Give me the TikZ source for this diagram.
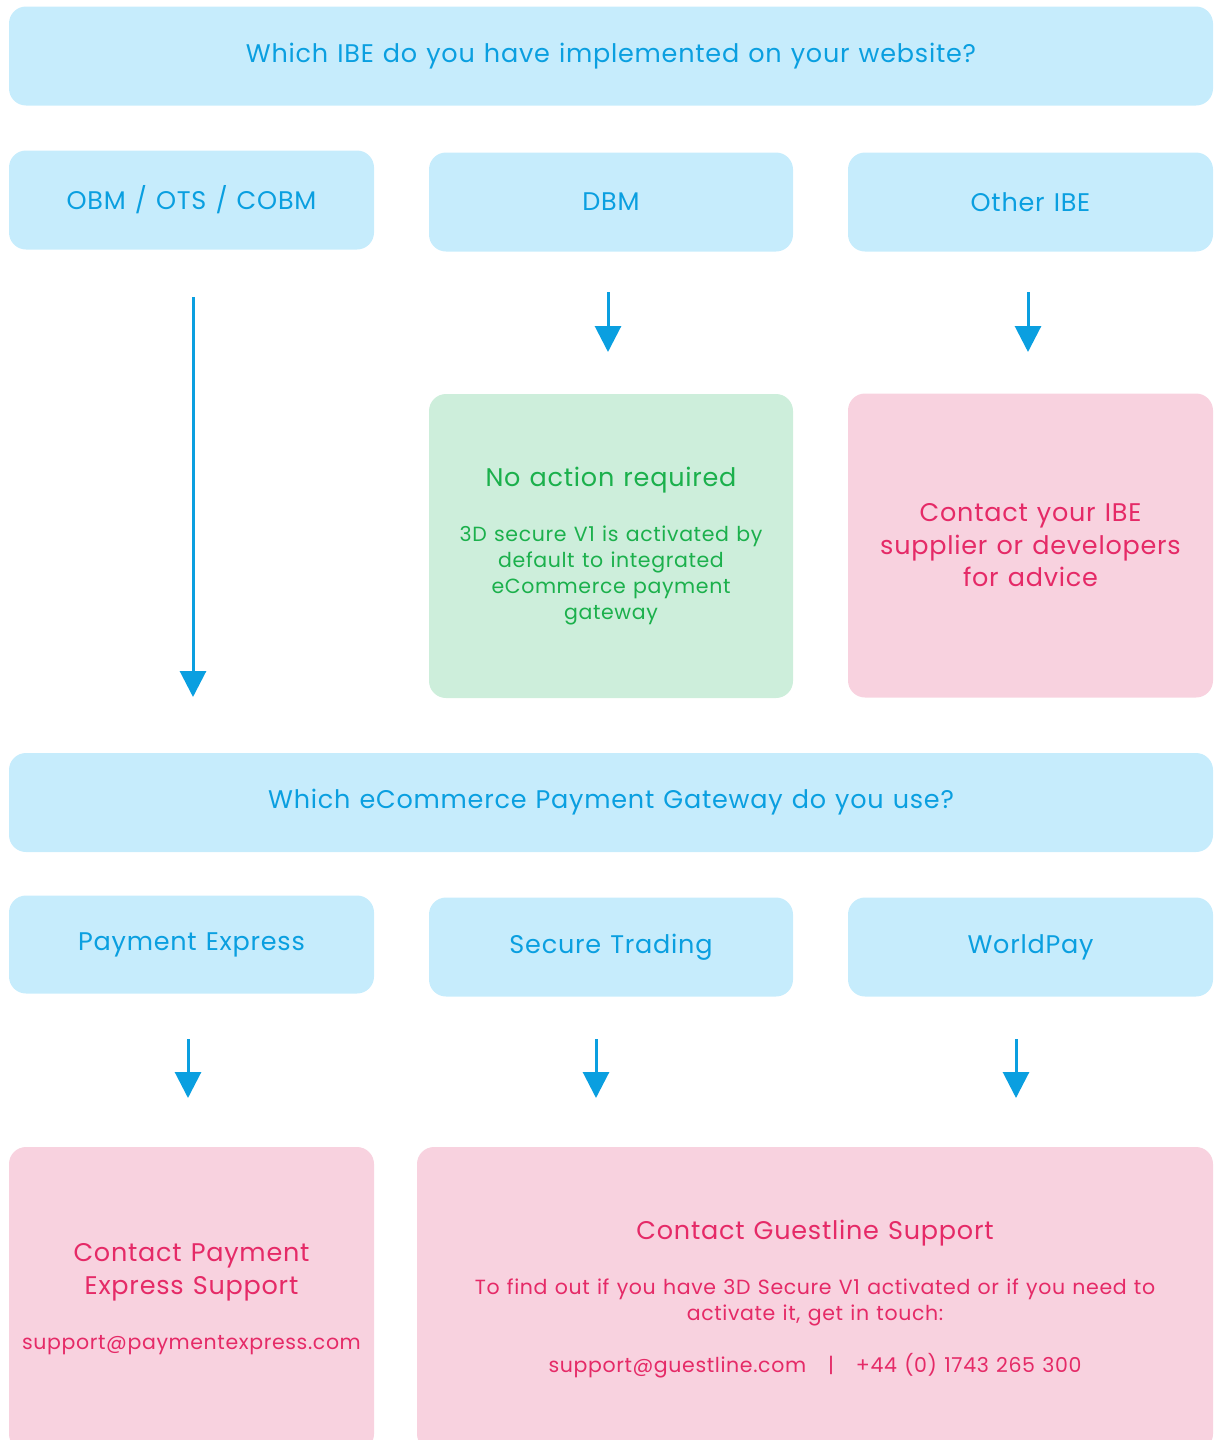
\documentclass[tikz,border=0pt]{standalone}
\usepackage{fontspec}
\setmainfont{Poppins}[LetterSpace=3, WordSpace=1.2]
\usetikzlibrary{arrows.meta}
\definecolor{boxblue}{HTML}{C6ECFC}
\definecolor{txtblue}{HTML}{0A9FE0}
\definecolor{boxgreen}{HTML}{CDEEDB}
\definecolor{txtgreen}{HTML}{1BB04C}
\definecolor{boxpink}{HTML}{F8D2DF}
\definecolor{txtpink}{HTML}{E52A67}
\newcommand{\bigtxt}{\fontsize{25.5}{32.5}\selectfont}
\newcommand{\smalltxt}{\fontsize{20.5}{26}\selectfont}
\tikzset{
  card/.style={rounded corners=17pt, inner sep=0pt, align=flush center},
  bluecard/.style={card, fill=boxblue, text=txtblue, font=\bigtxt},
  greencard/.style={card, fill=boxgreen, text=txtgreen},
  pinkcard/.style={card, fill=boxpink, text=txtpink},
  flow/.style={draw=txtblue, line width=3pt, -{Triangle[width=26pt,length=26pt]}},
}

\begin{document}
\begin{tikzpicture}[x=1pt, y=-1pt]
		%%%%% START %%%%%
		\useasboundingbox (0, 0) rectangle (1214, 1440);
		\clip (0, 0) rectangle (1214, 1440);
		
		% first question
		\node[bluecard, minimum width=1204pt, minimum height=99pt] (ibeq) at (611, 56) {Which IBE do you have implemented on your website?};
		\node[bluecard, minimum width=365pt, minimum height=99pt] (obm) at (191.5, 200) {OBM / OTS / COBM};
		\node[bluecard, minimum width=364pt, minimum height=99pt] (dbm) at (611, 202) {DBM};
		\node[bluecard, minimum width=365pt, minimum height=99pt] (other) at (1030.5, 202) {Other IBE};
		
		\coordinate (obmA) at (193, 297);
		\coordinate (obmB) at (193, 697);
		\coordinate (dbmA) at (608, 292);
		\coordinate (dbmB) at (608, 352);
		\coordinate (otherA) at (1028, 292);
		\coordinate (otherB) at (1028, 352);
		\draw[flow] (obmA) -- (obmB);
		\draw[flow] (dbmA) -- (dbmB);
		\draw[flow] (otherA) -- (otherB);
		
		\node[greencard, minimum width=364pt, minimum height=304pt, text width=350pt] (noact) at (611, 546)
			{{\bigtxt No action required\par}\vspace{29pt}
			 {\smalltxt 3D secure V1 is activated by\\ default to integrated\\ eCommerce payment\\ gateway\par}};
		\node[pinkcard, minimum width=365pt, minimum height=304pt, text width=350pt] (askibe) at (1030.5, 545.5)
			{{\bigtxt Contact your IBE\\ supplier or developers\\ for advice\par}};
		
		% second question
		\node[bluecard, minimum width=1204pt, minimum height=99pt] (gateq) at (611, 802.5) {Which eCommerce Payment Gateway do you use?};
		\node[bluecard, minimum width=365pt, minimum height=98pt] (pex) at (191.5, 944.5) {Payment Express};
		\node[bluecard, minimum width=364pt, minimum height=99pt] (strd) at (611, 947) {Secure Trading};
		\node[bluecard, minimum width=365pt, minimum height=99pt] (wpay) at (1030.5, 947) {WorldPay};
		
		\coordinate (pexA) at (188, 1039);
		\coordinate (pexB) at (188, 1098);
		\coordinate (strdA) at (596, 1039);
		\coordinate (strdB) at (596, 1098);
		\coordinate (wpayA) at (1016, 1039);
		\coordinate (wpayB) at (1016, 1098);
		\draw[flow] (pexA) -- (pexB);
		\draw[flow] (strdA) -- (strdB);
		\draw[flow] (wpayA) -- (wpayB);
		
		\node[pinkcard, minimum width=365pt, minimum height=304pt, text width=360pt] (pexsup) at (191.5, 1299)
			{{\bigtxt Contact Payment\\ Express Support\par}\vspace{29pt}
			 {\smalltxt support@paymentexpress.com\par}};
		\node[pinkcard, minimum width=796pt, minimum height=304pt, text width=760pt] (gsup) at (815, 1299)
			{{\bigtxt Contact Guestline Support\par}\vspace{29pt}
			 {\smalltxt To find out if you have 3D Secure V1 activated or if you need to\\ activate it, get in touch:\par}\vspace{26pt}
			 {\smalltxt support@guestline.com\ \ \ |\ \ \ +44 (0) 1743 265 300\par}};
		%%%%% END %%%%%
\end{tikzpicture}
\end{document}
